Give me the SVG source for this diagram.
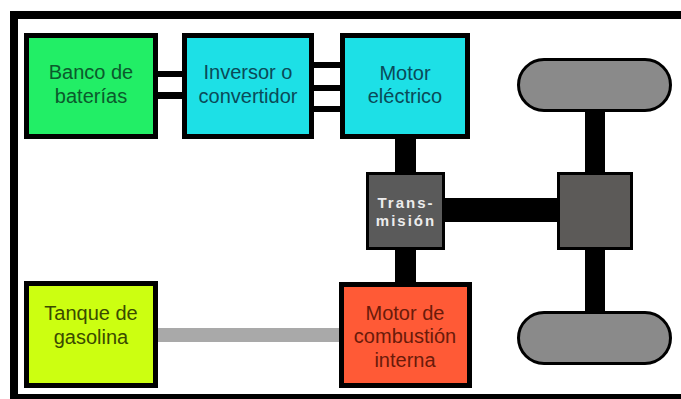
<svg xmlns="http://www.w3.org/2000/svg" width="681" height="399" viewBox="0 0 681 399">
<style>
.box{stroke:#000;stroke-width:5}
.lbl{font-family:"Liberation Sans",Arial,sans-serif;font-size:20px;text-anchor:middle}
.bar{fill:#000}
</style>
<rect x="0" y="0" width="681" height="399" fill="#fff"/>
<g id="frame" fill="#000">
<rect x="10" y="11" width="671" height="8"/>
<rect x="10" y="11" width="8" height="388"/>
<rect x="10" y="394" width="671" height="5"/>
</g>
<g id="connectors">
<rect class="bar" x="156" y="71" width="28" height="6"/>
<rect class="bar" x="156" y="92" width="28" height="7"/>
<rect class="bar" x="312" y="62" width="30" height="6"/>
<rect class="bar" x="312" y="85" width="30" height="6"/>
<rect class="bar" x="312" y="106" width="30" height="6"/>
<rect class="bar" x="395" y="137" width="21" height="37"/>
<rect class="bar" x="395" y="248" width="21" height="36"/>
<rect class="bar" x="443" y="198" width="116" height="24"/>
<rect class="bar" x="585" y="110" width="20" height="64"/>
<rect class="bar" x="585" y="248" width="20" height="65"/>
<rect x="156" y="328" width="185" height="14" fill="#a9a9a9"/>
</g>
<g id="banco">
<rect class="box" x="26.5" y="35.5" width="129" height="101" fill="#22ee66"/>
<text class="lbl" fill="#0b5a2c"><tspan x="91" y="79">Banco de</tspan><tspan x="91" y="103">baterías</tspan></text>
</g>
<g id="inversor">
<rect class="box" x="184.5" y="35.5" width="127" height="101" fill="#1de0e6"/>
<text class="lbl" fill="#0a4a58"><tspan x="248" y="79">Inversor o</tspan><tspan x="248" y="103">convertidor</tspan></text>
</g>
<g id="motor-electrico">
<rect class="box" x="342.5" y="35.5" width="125" height="101" fill="#1de0e6"/>
<text class="lbl" fill="#0a4a58"><tspan x="405" y="80">Motor</tspan><tspan x="405" y="103">eléctrico</tspan></text>
</g>
<g id="transmision">
<rect x="367.5" y="173.5" width="76" height="75" fill="#5a5a5a" stroke="#000" stroke-width="3"/>
<text font-family="'Liberation Sans',Arial,sans-serif" font-size="15" font-weight="bold" letter-spacing="2" text-anchor="middle" fill="#ececec"><tspan x="406" y="208">Trans-</tspan><tspan x="406" y="226">misión</tspan></text>
</g>
<g id="diferencial">
<rect x="558.5" y="173.5" width="73" height="75" fill="#5c5a58" stroke="#000" stroke-width="3"/>
</g>
<g id="rueda-superior">
<rect x="518.5" y="59.5" width="152" height="51" rx="25.5" fill="#8a8a8a" stroke="#000" stroke-width="3"/>
</g>
<g id="rueda-inferior">
<rect x="518.5" y="312.5" width="152" height="51" rx="25.5" fill="#8a8a8a" stroke="#000" stroke-width="3"/>
</g>
<g id="tanque">
<rect class="box" x="26.5" y="283.5" width="129" height="102" fill="#ccff11"/>
<text class="lbl" fill="#3a4a00"><tspan x="91" y="320">Tanque de</tspan><tspan x="91" y="344">gasolina</tspan></text>
</g>
<g id="motor-combustion">
<rect class="box" x="341.5" y="284.5" width="128" height="101" fill="#ff5a36"/>
<text class="lbl" fill="#6a1a0a"><tspan x="405" y="320">Motor de</tspan><tspan x="405" y="343">combustión</tspan><tspan x="405" y="367">interna</tspan></text>
</g>
</svg>
